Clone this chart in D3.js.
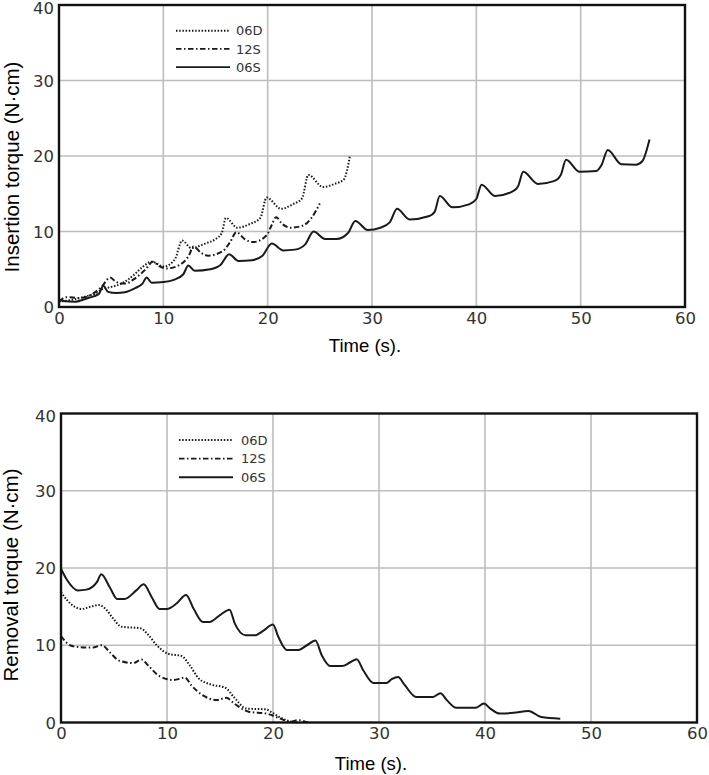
<!DOCTYPE html>
<html>
<head>
<meta charset="utf-8">
<script src="https://cdn.jsdelivr.net/npm/d3@7"></script>
<style>
  html, body { margin: 0; padding: 0; background: #fff; }
  svg { display: block; }
</style>
</head>
<body>
<svg id="chart" width="709" height="775"></svg>
<script>
// ---------- DATA ----------
const xTicks = [0, 10, 20, 30, 40, 50, 60];
const yTicks = [0, 10, 20, 30, 40];
const seriesNames = ["06D", "12S", "06S"];
const xTitle = "Time (s).";
const insertionTitle = "Insertion torque (N\u00B7cm)";
const removalTitle = "Removal torque (N\u00B7cm)";

// Insertion torque [time s, torque N·cm]
const ins06D = [[0,0.7],[1.4,1.0],[2.7,1.45],[3.5,1.8],[4.2,2.4],[4.8,2.6],[6.0,3.1],[7.3,4.4],[8.0,5.3],[8.9,6.0],[10.0,5.35],[11.1,6.3],[11.8,8.8],[12.7,7.8],[14.0,8.4],[15.0,9.0],[15.6,9.8],[16.0,11.8],[17.1,10.5],[18.3,11.0],[19.3,11.8],[19.9,14.5],[21.3,13.0],[22.4,13.6],[23.3,14.4],[23.9,17.5],[25.3,15.9],[26.4,16.3],[27.3,16.9],[27.9,20.1]];
const ins12S = [[0,0.7],[0.7,1.3],[2.0,1.2],[3.3,1.8],[4.1,2.7],[4.9,3.9],[5.5,3.3],[6.3,3.1],[7.3,3.8],[8.3,5.0],[9.0,6.0],[9.6,5.4],[10.3,5.1],[11.6,5.6],[12.4,6.7],[12.9,8.0],[13.6,7.2],[14.3,6.8],[15.7,7.4],[16.4,8.6],[17.0,9.9],[17.8,9.0],[18.6,8.6],[19.9,9.5],[20.4,10.9],[20.8,11.9],[21.4,11.0],[22.2,10.5],[23.4,10.8],[24.2,11.8],[25.0,13.7]];
const ins06S = [[0,1.0],[0.6,0.75],[1.5,0.7],[2.8,1.2],[3.8,1.7],[4.25,2.8],[4.7,2.0],[5.5,1.85],[6.3,1.95],[7.3,2.5],[8.0,3.1],[8.4,3.9],[8.9,3.2],[10.0,3.3],[11.0,3.6],[11.9,4.3],[12.4,5.5],[13.0,4.8],[14.5,5.0],[15.5,5.6],[16.3,7.0],[17.2,6.1],[18.5,6.2],[19.5,6.8],[20.4,8.4],[21.5,7.5],[22.6,7.6],[23.6,8.3],[24.4,10.0],[25.5,9.0],[26.6,9.0],[27.7,9.8],[28.4,11.4],[29.6,10.2],[30.8,10.5],[31.7,11.2],[32.4,13.0],[33.6,11.6],[35.5,12.05],[36.0,12.6],[36.5,14.7],[37.7,13.2],[39.3,13.6],[40.0,14.3],[40.5,16.2],[41.8,14.7],[43.6,15.4],[44.0,16.0],[44.5,17.9],[45.9,16.3],[47.5,16.7],[48.1,17.5],[48.6,19.5],[49.9,17.9],[51.5,18.0],[52.0,18.8],[52.6,20.8],[53.9,18.9],[55.3,18.85],[55.9,19.3],[56.6,22.2]];

// Removal torque [time s, torque N·cm]
const rem06D = [[0,16.9],[0.6,15.8],[1.95,14.7],[2.7,14.95],[3.6,15.2],[4.2,14.7],[4.9,13.5],[5.7,12.4],[7.5,12.2],[8.2,11.4],[9.1,9.9],[10.1,8.9],[11.4,8.6],[12.1,7.5],[13.0,5.7],[14.2,4.9],[15.5,4.5],[16.3,3.3],[17.5,1.8],[19.3,1.7],[20.0,1.2],[20.9,0.5],[21.9,0.05],[22.5,0]];
const rem12S = [[0,11.2],[0.85,10.0],[1.8,9.75],[3.0,9.7],[3.85,10.0],[4.6,9.1],[5.5,8.0],[6.8,7.7],[7.6,8.15],[8.2,7.4],[9.3,6.0],[10.6,5.5],[11.7,5.8],[12.3,4.8],[13.4,3.5],[14.7,2.9],[15.6,3.2],[16.3,2.5],[17.7,1.4],[19.4,1.15],[20.7,0.5],[21.6,0.1],[22.4,0.3],[23.3,0]];
const rem06S = [[0,19.9],[0.5,18.6],[1.6,17.1],[2.4,17.2],[3.4,18.2],[3.8,19.2],[4.6,17.5],[5.3,16.0],[6.0,16.0],[7.1,17.1],[7.8,17.9],[8.55,16.25],[9.3,14.7],[10.0,14.7],[10.9,15.4],[11.8,16.5],[12.5,14.75],[13.4,13.0],[14.0,13.0],[15.0,13.9],[15.9,14.6],[16.4,12.8],[17.4,11.3],[18.3,11.3],[19.1,11.9],[20.0,12.7],[20.5,11.1],[21.3,9.4],[22.4,9.4],[23.2,10.0],[24.0,10.6],[24.6,8.7],[25.4,7.3],[26.5,7.3],[27.3,7.8],[27.9,8.2],[28.5,6.8],[29.5,5.1],[30.7,5.1],[31.2,5.6],[31.8,5.9],[32.4,4.9],[33.5,3.3],[35.1,3.3],[35.8,3.8],[36.4,2.9],[37.3,1.9],[39.1,1.9],[39.9,2.45],[40.5,1.8],[41.4,1.15],[42.7,1.25],[44.1,1.5],[45.3,0.7],[47.1,0.5]];

// ---------- DRAW ----------
const svg = d3.select("#chart");
const dashes = { "06D": "1.5,1.7", "12S": "5.5,2.5,1.5,2.5", "06S": null };

function panel(cfg) {
  const x = d3.scaleLinear().domain([0, 60]).range([cfg.left, cfg.right]);
  const y = d3.scaleLinear().domain([0, 40]).range([cfg.bottom, cfg.top]);
  const g = svg.append("g");

  // grid
  g.selectAll(".vg").data(xTicks.slice(1, -1)).join("line")
    .attr("x1", d => x(d)).attr("x2", d => x(d))
    .attr("y1", cfg.top).attr("y2", cfg.bottom)
    .attr("stroke", "#bdbdbd").attr("stroke-width", 1.6);
  g.selectAll(".hg").data(yTicks.slice(1, -1)).join("line")
    .attr("x1", cfg.left).attr("x2", cfg.right)
    .attr("y1", d => y(d)).attr("y2", d => y(d))
    .attr("stroke", "#bdbdbd").attr("stroke-width", 1.6);

  // axes (labels only)
  const xa = g.append("g").attr("transform", `translate(0,${cfg.bottom})`)
    .call(d3.axisBottom(x).tickValues(xTicks).tickSize(0).tickPadding(5).tickFormat(d3.format("d")));
  xa.select(".domain").remove();
  xa.selectAll("text").attr("font-family", "DejaVu Sans").attr("font-size", 16.5).attr("fill", "#333");

  const ya = g.append("g").attr("transform", `translate(${cfg.left},0)`)
    .call(d3.axisLeft(y).tickValues(yTicks).tickSize(0).tickPadding(5).tickFormat(d3.format("d")));
  ya.select(".domain").remove();
  ya.selectAll("text").attr("font-family", "DejaVu Sans").attr("font-size", 16.5).attr("fill", "#333")
    .attr("dy", d => (d === 40 ? (cfg.topLabelDy) : 0) + "px")
    .attr("y", 0);
  ya.selectAll("text").each(function(d) {
    const t = d3.select(this);
    t.attr("dy", null).attr("dominant-baseline", "central");
    if (d === 40) t.attr("y", cfg.topLabelDy);
  });

  // lines
  const line = d3.line().x(d => x(d[0])).y(d => y(d[1])).curve(d3.curveMonotoneX);
  cfg.series.forEach((s, i) => {
    g.append("path").datum(s)
      .attr("d", line)
      .attr("fill", "none")
      .attr("stroke", "#1a1a1a")
      .attr("stroke-width", 2)
      .attr("stroke-dasharray", dashes[seriesNames[i]]);
  });

  // frame
  g.append("rect")
    .attr("x", cfg.left).attr("y", cfg.top)
    .attr("width", cfg.right - cfg.left).attr("height", cfg.bottom - cfg.top)
    .attr("fill", "none").attr("stroke", "#111").attr("stroke-width", 2.4);

  // legend
  seriesNames.forEach((n, i) => {
    const ly = cfg.legendY + i * cfg.legendGap;
    g.append("line")
      .attr("x1", cfg.legendX).attr("x2", cfg.legendX + 54)
      .attr("y1", ly).attr("y2", ly)
      .attr("stroke", "#1a1a1a").attr("stroke-width", 1.9)
      .attr("stroke-dasharray", dashes[n]);
    g.append("text")
      .attr("x", cfg.legendX + 60 + cfg.legendTextShift).attr("y", ly + 4.6)
      .attr("font-family", "DejaVu Sans").attr("font-size", 13)
      .attr("fill", "#333").text(n);
  });

  // titles
  g.append("text")
    .attr("x", cfg.xTitleX).attr("y", cfg.xTitleY)
    .attr("text-anchor", "middle")
    .attr("font-family", "Liberation Sans, Arial").attr("font-size", 18.5)
    .attr("fill", "#000").text(xTitle);
  g.append("text")
    .attr("transform", `translate(${cfg.yTitleX},${cfg.yTitleY}) rotate(-90)`)
    .attr("text-anchor", "middle")
    .attr("font-family", "Liberation Sans, Arial").attr("font-size", 20.5)
    .attr("fill", "#000").text(cfg.yTitle);
}

panel({
  left: 59, right: 685, top: 5, bottom: 307,
  series: [ins06D, ins12S, ins06S],
  legendX: 176, legendY: 30.7, legendGap: 18.2, legendTextShift: 0,
  xTitleX: 365, xTitleY: 352,
  yTitleX: 18.5, yTitleY: 167, yTitle: insertionTitle, topLabelDy: 3
});

panel({
  left: 61, right: 697, top: 413.5, bottom: 722.5,
  series: [rem06D, rem12S, rem06S],
  legendX: 179, legendY: 440, legendGap: 18.6, legendTextShift: 2,
  xTitleX: 371, xTitleY: 770,
  yTitleX: 18, yTitleY: 575, yTitle: removalTitle, topLabelDy: 2
});
</script>
</body>
</html>
